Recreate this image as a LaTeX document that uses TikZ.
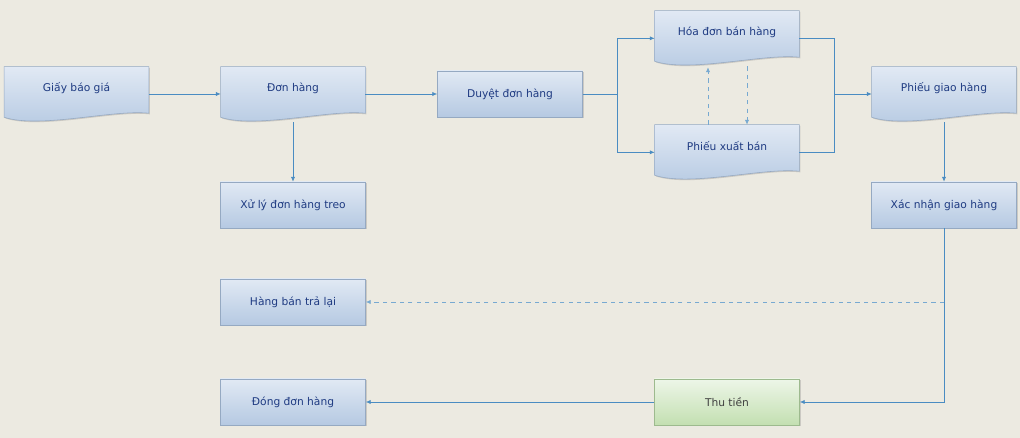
\documentclass[tikz,border=0pt]{standalone}
\usepackage{fontspec}
\setmainfont{DejaVu Sans}
\usetikzlibrary{arrows.meta,backgrounds,shadows}
\definecolor{nen}{HTML}{ECEAE1}
\definecolor{xanhtren}{HTML}{E1E9F4}
\definecolor{xanhduoi}{HTML}{B5C9E2}
\definecolor{vien}{HTML}{95A9C2}
\definecolor{chu}{HTML}{1F3B82}
\definecolor{duong}{HTML}{4A8CC2}
\definecolor{luctren}{HTML}{EDF6E8}
\definecolor{lucduoi}{HTML}{C3DFB1}
\definecolor{vienluc}{HTML}{9DBA8E}
\tikzset{
  hop/.style={rectangle, minimum width=3.625cm, minimum height=1.15cm,
    top color=xanhtren, bottom color=xanhduoi, draw=vien,
    drop shadow={shadow xshift=0.8pt, shadow yshift=-0.8pt, opacity=0.3},
    text=chu, font=\fontsize{7.6}{9}\selectfont},
  hopluc/.style={hop, top color=luctren, bottom color=lucduoi, draw=vienluc, text=black!75},
  phieu/.style={rectangle, minimum width=3.6cm, minimum height=1.05cm,
    text=chu, font=\fontsize{7.6}{9}\selectfont},
  noi/.style={draw=duong, line width=0.5pt, -{Latex[length=3.5pt,width=3pt]}},
  noigach/.style={noi, dashed, draw=duong!75},
}
% hình chứng từ: đáy lượn sóng
\newcommand{\vephieu}[1]{%
  \shade[top color=xanhtren, bottom color=xanhduoi, draw=vien,
    drop shadow={shadow xshift=0.8pt, shadow yshift=-0.8pt, opacity=0.3}]
    (#1.north west) -- (#1.north east) -- ([yshift=-2.8pt]#1.south east)
    .. controls ([xshift=-0.9cm]#1.south east) and ([xshift=0.9cm,yshift=-14pt]#1.south west)
    .. ([yshift=-5.7pt]#1.south west) -- cycle;}
\begin{document}
\begin{tikzpicture}[x=0.025cm,y=-0.025cm]
  % Nền
  \begin{scope}[on background layer]
    \fill[nen] (0,0) rectangle (1020,438);
  \end{scope}
  \useasboundingbox (0,0) rectangle (1020,438);
  % Các chứng từ
  \node[phieu] (giay) at (76.5,88) {Giấy báo giá};
  \node[phieu] (don) at (293,88) {Đơn hàng};
  \node[phieu] (hoadon) at (727,32) {Hóa đơn bán hàng};
  \node[phieu] (phieuxuat) at (727,146) {Phiếu xuất bán};
  \node[phieu] (phieugiao) at (944,88) {Phiếu giao hàng};
  \begin{scope}[on background layer]
    \vephieu{giay} \vephieu{don} \vephieu{hoadon}
    \vephieu{phieuxuat} \vephieu{phieugiao}
  \end{scope}
  % Các bước xử lý
  \node[hop] (duyet) at (510,94) {Duyệt đơn hàng};
  \node[hop] (xuly) at (293,205) {Xử lý đơn hàng treo};
  \node[hop] (xacnhan) at (944,205) {Xác nhận giao hàng};
  \node[hop] (hangtra) at (293,302) {Hàng bán trả lại};
  \node[hop] (dong) at (293,402) {Đóng đơn hàng};
  \node[hopluc] (thutien) at (727,402) {Thu tiền};
  % Điểm rẽ nhánh
  \coordinate (re1) at (617,94);
  \coordinate (re2) at (834,94);
  % Đường nối
  \draw[noi] (giay.east |- duyet) -- (don.west |- duyet);
  \draw[noi] (don.east |- duyet) -- (duyet.west);
  \draw[noi] (duyet.east) -- (re1) |- ([yshift=-4.5pt]hoadon.west);
  \draw[noi] (re1) |- ([yshift=-4.5pt]phieuxuat.west);
  \draw[duong, line width=0.5pt] ([yshift=-4.5pt]hoadon.east) -| (re2);
  \draw[duong, line width=0.5pt] ([yshift=-4.5pt]phieuxuat.east) -| (re2);
  \draw[noi] (re2) -- (phieugiao.west |- re2);
  \draw[noigach] ([xshift=-0.475cm]phieuxuat.north) -- ([xshift=-0.475cm,yshift=-0.35cm]hoadon.south);
  \draw[noigach] ([xshift=0.5cm,yshift=-0.33cm]hoadon.south) -- ([xshift=0.5cm]phieuxuat.north);
  \draw[noi] ([yshift=-9.2pt]don.south) -- (xuly.north);
  \draw[noi] ([yshift=-9.2pt]phieugiao.south) -- (xacnhan.north);
  \draw[noi] (xacnhan.south) |- (thutien.east);
  \coordinate (re3) at (xacnhan.south |- hangtra.east);
  \draw[noigach] (re3) -- (hangtra.east);
  \draw[noi] (thutien.west) -- (dong.east);
\end{tikzpicture}
\end{document}
